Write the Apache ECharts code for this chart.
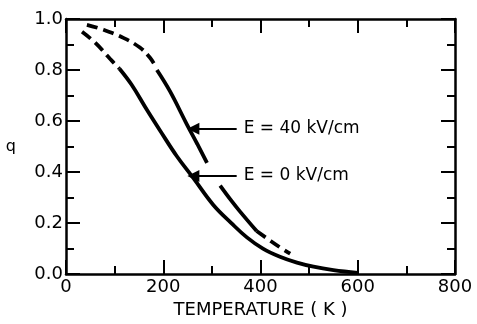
<!DOCTYPE html>
<html>
<head>
<meta charset="utf-8">
<script src="https://cdn.jsdelivr.net/npm/echarts@6/dist/echarts.min.js"></script>
<style>
  html, body { margin: 0; padding: 0; background: #fff; }
  #chart { width: 477px; height: 324px; }
</style>
</head>
<body>
<div id="chart"></div>
<script>
// tick values
const xTicks = [0, 200, 400, 600, 800]
const yTicks = [0.0, 0.2, 0.4, 0.6, 0.8, 1.0]

// E = 0 kV/cm : [T (K), q]
const e0Dashed = [[33, 0.95], [60, 0.907], [90, 0.845], [110, 0.805]]
const e0Solid = [
  [110, 0.805], [135, 0.742], [166, 0.645], [193, 0.564], [228, 0.462],
  [262, 0.376], [303, 0.271], [340, 0.2], [372, 0.144], [405, 0.1],
  [440, 0.068], [475, 0.045], [509, 0.029], [550, 0.016], [600, 0.005]
]

// E = 40 kV/cm
const e40Dashed = [[43, 0.977], [77, 0.958], [118, 0.926], [152, 0.888], [172, 0.85], [185, 0.812]]
const e40SolidA = [[187, 0.8], [214, 0.716], [248, 0.589], [270, 0.51], [290, 0.436]]
const e40SolidB = [[317, 0.347], [340, 0.288], [358, 0.245], [392, 0.169]]
const e40Tail = [[392, 0.169], [420, 0.131], [440, 0.105], [461, 0.08]]

// arrow annotations: [label, tail, tip]
const notes = [
  ['E = 40 kV/cm', [351, 0.57], [262, 0.57]],
  ['E = 0 kV/cm', [351, 0.385], [262, 0.385]]
]

const font = 'DejaVu Sans'
const ink = '#000'

const chart = echarts.init(document.getElementById('chart'))

const axisCommon = {
  axisLine: { show: true, onZero: false, lineStyle: { color: ink, width: 2.5 } },
  axisTick: { show: true, inside: true, length: 14, lineStyle: { color: ink, width: 2 } },
  minorTick: { show: true, splitNumber: 2, length: 8, lineStyle: { color: ink, width: 2 } },
  splitLine: { show: false }
}

const xBase = { type: 'value', min: xTicks[0], max: xTicks[xTicks.length - 1], interval: 200 }
const yBase = { type: 'value', min: yTicks[0], max: yTicks[yTicks.length - 1], interval: 0.2 }

const curve = (data, dashed) => ({
  type: 'line',
  data: data,
  smooth: 0.4,
  showSymbol: false,
  silent: true,
  lineStyle: { color: ink, width: 3.8, type: dashed ? [11, 6] : 'solid', cap: 'butt' }
})

const arrowLine = {
  type: 'line',
  data: [],
  silent: true,
  markLine: {
    silent: true,
    symbol: ['none', 'triangle'],
    symbolSize: 12,
    itemStyle: { color: ink },
    lineStyle: { color: ink, width: 2, type: 'solid' },
    label: {
      show: true,
      position: 'start',
      distance: 7,
      color: ink,
      fontFamily: font,
      fontSize: 17,
      formatter: p => p.data.name
    },
    data: notes.map(n => [
      { name: n[0], coord: n[1] },
      { coord: n[2] }
    ])
  }
}

chart.setOption({
  animation: false,
  backgroundColor: '#fff',
  grid: { left: 66, right: 22, top: 19, bottom: 43 },
  xAxis: [
    {
      ...xBase, ...axisCommon,
      position: 'bottom',
      name: 'TEMPERATURE ( K )',
      nameLocation: 'middle',
      nameGap: 23,
      nameTextStyle: { color: ink, fontFamily: font, fontSize: 18 },
      axisLabel: { color: ink, fontFamily: font, fontSize: 18, margin: 4 }
    },
    {
      ...xBase, ...axisCommon,
      position: 'top',
      axisLabel: { show: false }
    }
  ],
  yAxis: [
    {
      ...yBase, ...axisCommon,
      position: 'left',
      name: 'q',
      nameLocation: 'middle',
      nameRotate: 0,
      nameGap: 50,
      nameTextStyle: { color: ink, fontFamily: font, fontSize: 16 },
      axisLabel: { color: ink, fontFamily: font, fontSize: 18, margin: 3, formatter: v => v.toFixed(1) }
    },
    {
      ...yBase, ...axisCommon,
      position: 'right',
      axisLabel: { show: false }
    }
  ],
  series: [
    curve(e0Dashed, true),
    curve(e0Solid, false),
    curve(e40Dashed, true),
    curve(e40SolidA, false),
    curve(e40SolidB, false),
    curve(e40Tail, true),
    arrowLine
  ]
})
</script>
</body>
</html>
